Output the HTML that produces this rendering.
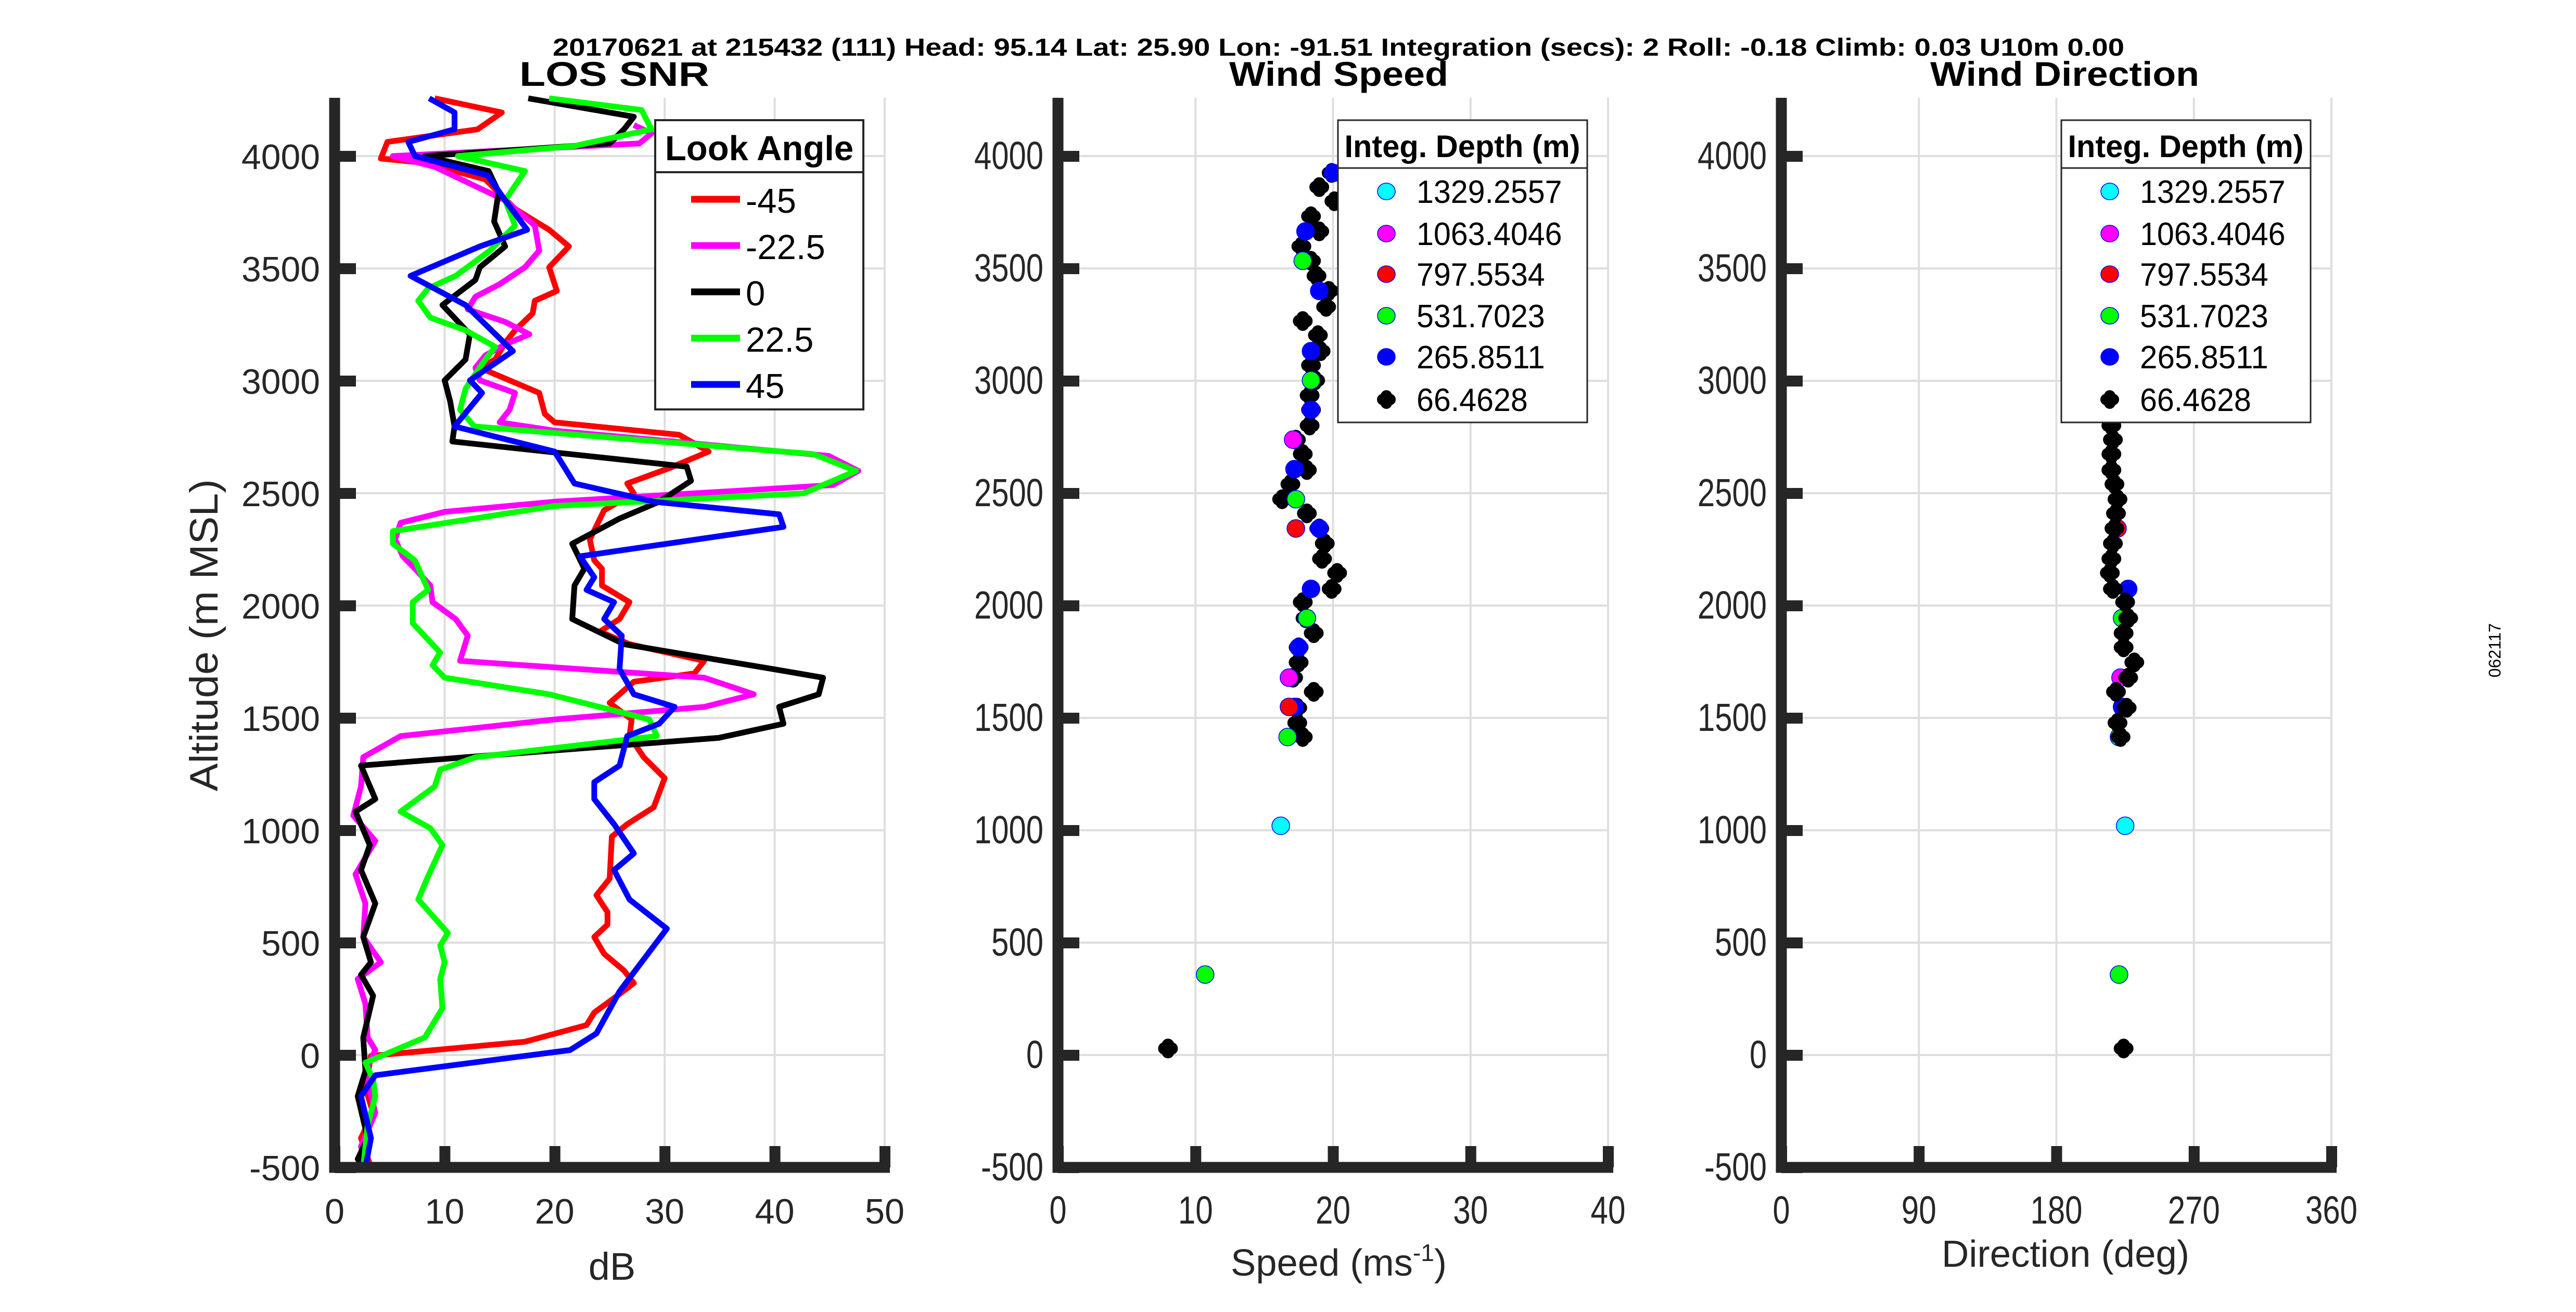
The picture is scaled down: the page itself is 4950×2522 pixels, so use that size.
<!DOCTYPE html>
<html><head><meta charset="utf-8"><style>
html,body{margin:0;padding:0;background:#fff;}
svg{display:block;font-family:"Liberation Sans",Arial,sans-serif;}
</style></head><body>
<svg id="fig" xmlns="http://www.w3.org/2000/svg" width="4950" height="2522" viewBox="0 0 4950 2522">
<rect width="4950" height="2522" fill="#fff"/>
<text x="1062" y="107" font-size="47" font-weight="bold" textLength="3020" lengthAdjust="spacingAndGlyphs">20170621 at 215432 (111)  Head: 95.14  Lat: 25.90  Lon: -91.51  Integration (secs): 2  Roll: -0.18  Climb: 0.03  U10m 0.00</text>
<text transform="translate(4805,1250) rotate(-90)" font-size="32" text-anchor="middle">062117</text>
<g id="grids"></g>
<g id="marks"></g>
<g id="axes"></g>
<g id="legends"></g>
</svg>
<script>
// ---- Panel 1: LOS SNR data ----
const snrM45_dB = [9.1,15.2,13.0,4.8,4.2,8.2,13.7,16.4,19.5,21.3,19.5,20.2,18.2,18.0,16.4,15.5,14.6,13.2,18.6,19.1,20.0,31.3,34.0,30.4,26.6,27.2,24.5,23.2,23.6,24.3,24.3,26.8,25.9,24.1,26.8,33.6,32.7,27.2,25.9,25.0,27.0,26.8,28.1,30.0,29.0,26.6,25.2,25.0,23.8,24.8,24.8,23.6,24.5,26.3,27.2,25.7,23.6,22.9,17.3,3.3,2.8,3.5,2.4,3.3];
const snrM45_alt = [4257,4194,4119,4063,3989,3970,3896,3765,3672,3598,3505,3400,3356,3300,3225,3169,3095,3058,2946,2853,2815,2760,2685,2611,2543,2499,2424,2294,2201,2164,2089,2015,1940,1884,1828,1754,1698,1661,1605,1567,1493,1419,1325,1232,1102,1027,972,785,711,636,580,525,450,376,320,264,189,133,59,-4,-146,-258,-370,-500];
const snrM22_dB = [27.2,28.8,27.7,5.3,9.1,15.5,18.2,18.6,17.3,15.0,12.8,12.1,15.5,17.7,15.5,13.7,12.8,13.2,16.4,15.9,15.0,20.0,44.9,47.6,45.3,20.0,10.0,6.0,5.5,6.2,7.3,8.7,8.9,11.0,12.1,11.4,33.6,38.1,33.6,20.0,6.0,2.6,2.4,1.7,3.7,1.9,2.8,2.6,4.2,2.1,2.8,3.0,3.7,2.8,3.7,2.4,2.8];
const snrM22_alt = [4138,4101,4056,4000,3952,3803,3691,3579,3505,3430,3374,3318,3262,3207,3162,3113,3058,3002,2946,2871,2815,2778,2666,2599,2536,2462,2417,2368,2294,2219,2164,2089,2015,1940,1866,1754,1679,1605,1549,1493,1419,1325,1195,1065,953,804,674,525,413,338,227,78,22,-71,-258,-407,-500];
const snr0_dB = [17.6,27.2,26.3,25.0,8.2,14.0,14.9,14.5,15.5,13.2,12.8,9.8,12.3,11.9,10.0,10.5,10.9,10.7,32.0,32.4,29.5,25.9,21.6,22.7,21.8,21.6,26.3,39.9,44.4,44.0,40.4,40.8,34.9,11.9,2.4,3.7,1.9,3.2,2.4,3.7,2.6,3.3,2.4,3.5,2.6,2.8,2.1,3.0,2.1,2.6];
const snr0_alt = [4257,4175,4119,4056,4000,3933,3840,3709,3598,3505,3449,3337,3207,3095,3002,2909,2797,2730,2618,2555,2462,2387,2275,2164,2089,1940,1828,1717,1679,1605,1549,1474,1411,1325,1288,1139,1083,934,823,674,525,413,357,264,78,-71,-183,-370,-463,-500];
const snrP22_dB = [19.5,27.9,28.8,21.8,11.2,17.3,15.5,16.4,14.1,11.0,8.5,7.6,8.7,11.9,14.6,13.7,11.9,11.4,12.7,43.5,47.4,42.6,20.0,5.3,5.3,7.3,8.5,7.1,7.1,9.6,8.9,10.0,19.5,28.6,29.3,12.8,9.6,9.1,6.0,8.7,9.8,8.4,7.6,10.3,9.6,10.0,9.6,9.8,8.2,2.8,3.5,3.7,3.0,2.6];
const snrP22_alt = [4257,4205,4119,4045,4000,3933,3803,3691,3579,3467,3411,3356,3281,3225,3151,3095,2965,2871,2797,2674,2599,2499,2443,2331,2275,2201,2070,2015,1921,1791,1735,1679,1605,1493,1419,1325,1270,1195,1083,1009,934,785,692,543,487,413,338,208,78,-34,-109,-183,-314,-500];
const snrP45_dB = [8.6,10.9,10.9,6.7,7.3,11.0,13.9,15.5,17.5,13.2,6.9,11.9,16.2,12.3,13.4,10.9,20.0,21.8,29.0,40.4,40.8,22.3,23.6,22.9,25.4,24.5,26.1,25.9,27.2,30.9,29.5,26.6,25.9,23.6,23.6,25.4,27.2,25.4,26.8,30.2,25.9,23.8,21.4,3.7,2.4,3.3,2.8];
const snrP45_alt = [4257,4194,4119,4063,4000,3952,3914,3803,3672,3598,3467,3337,3132,3002,2946,2797,2685,2543,2462,2406,2350,2219,2126,2070,2015,1940,1866,1717,1605,1549,1474,1419,1288,1214,1139,1027,897,823,692,562,283,96,22,-90,-183,-370,-500];
const lookAngles = ["-45","-22.5","0","22.5","45"];

// ---- Panel 2: wind speed data ----
const spd66_v = [19.9,19.0,20.1,18.4,19.0,17.7,18.4,18.8,19.7,19.5,17.8,18.9,19.1,18.4,18.7,18.3,18.4,18.3,17.3,17.8,18.1,16.9,16.3,18.1,19.0,19.4,19.2,20.3,19.9,17.8,18.0,18.6,17.5,17.5,17.1,18.6,17.4,17.4,17.8,8.0];
const spd66_alt = [3925,3862,3799,3732,3665,3598,3534,3467,3400,3329,3266,3203,3132,3069,3002,2935,2871,2801,2738,2674,2603,2540,2473,2410,2343,2276,2208,2145,2074,2015,1944,1877,1814,1747,1679,1616,1545,1478,1415,29];
const spd265_v = [20.0,18.0,19.0,18.4,18.4,17.2,19.0,18.4,17.5,17.2];
const spd265_alt = [3925,3665,3400,3132,2871,2607,2343,2074,1814,1549];
const spd531_v = [17.8,18.4,17.3,18.1,16.7,10.7];
const spd531_alt = [3534,3002,2473,1944,1415,358];
const spd1063_v = [17.1,16.8];
const spd1063_alt = [2738,1679];
const spd797_v = [17.3,16.8];
const spd797_alt = [2343,1549];
const spd1329_v = [16.2];
const spd1329_alt = [1020];

// ---- Panel 3: wind direction data ----
const dir66_v = [215,215,216,216,217,216,216,218,220,219,218,217,216,215,217,225,227,224,224,231,227,219,226,220,222,224];
const dir66_alt = [3400,3200,3000,2801,2738,2674,2603,2540,2473,2410,2343,2276,2208,2145,2074,2015,1944,1877,1814,1747,1679,1616,1545,1478,1415,29];
const dir265_v = [227,223];
const dir265_alt = [2074,1549];
const dir531_v = [223,221,221];
const dir531_alt = [1944,1415,358];
const dir1063_v = [222];
const dir1063_alt = [1679];
const dir797_v = [220];
const dir797_alt = [2343];
const dir1329_v = [225];
const dir1329_alt = [1020];
const depthLabels = ["1329.2557","1063.4046","797.5534","531.7023","265.8511","66.4628"];

const NS = "http://www.w3.org/2000/svg";
function mk(tag, attrs, parent, txt){
  const e = document.createElementNS(NS, tag);
  for (const k in attrs) e.setAttribute(k, attrs[k]);
  if (txt !== undefined) e.textContent = txt;
  parent.appendChild(e);
  return e;
}
const gGrid = document.getElementById('grids');
const gMarks = document.getElementById('marks');
const gAxes = document.getElementById('axes');
const gLeg = document.getElementById('legends');

const TOP = 188, Y0 = 2028, PXPER = 216/500, W = 1057;
function yScale(a){ return Y0 - a*PXPER; }
const BOTTOM = yScale(-500);
const panels = [
  {x0:643, max:50, ticks:[0,10,20,30,40,50], title:"LOS SNR", tx:998, tw:365, tickFs:68, tickW:1.0},
  {x0:2033, max:40, ticks:[0,10,20,30,40], title:"Wind Speed", tx:2362, tw:421, tickFs:75, tickW:0.8},
  {x0:3423, max:360, ticks:[0,90,180,270,360], title:"Wind Direction", tx:3709, tw:517, tickFs:75, tickW:0.8}
];
function xS(p, v){ return p.x0 + v/p.max*W; }
const yTicks = [-500,0,500,1000,1500,2000,2500,3000,3500,4000];

panels.forEach(function(p, i){
  p.ticks.forEach(function(t){
    if (t === 0) return;
    const gl = mk('line', {x1:xS(p,t), x2:xS(p,t), y1:TOP, y2:BOTTOM, stroke:'#dedede', 'stroke-width':4}, gGrid);
    
    
  });
  yTicks.forEach(function(t){
    if (t === -500) return;
    const gl = mk('line', {x1:p.x0, x2:p.x0+W, y1:yScale(t), y2:yScale(t), stroke:'#dedede', 'stroke-width':4}, gGrid);
    
    
  });
  const ax = mk('path', {d:'M'+p.x0+' '+TOP+' V'+BOTTOM+' H'+(p.x0+W+10), fill:'none', stroke:'#262626', 'stroke-width':21}, gAxes);
  
  
  p.ticks.forEach(function(t){
    const x = xS(p,t);
    const tk = mk('rect', {x:x-10, y:BOTTOM-41, width:21, height:41, fill:'#262626'}, gAxes);
    
    
    const s = String(t);
    const lb = mk('text', {x:x, y:2352, 'font-size':p.tickFs, fill:'#262626', 'text-anchor':'middle', textLength:(s.length*0.556*p.tickFs*p.tickW).toFixed(0), lengthAdjust:'spacingAndGlyphs'}, gAxes, s);
    
    
  });
  yTicks.forEach(function(t){
    const y = yScale(t);
    const tk = mk('rect', {x:p.x0, y:y-10, width:41, height:21, fill:'#262626'}, gAxes);
    
    
    const s = String(t);
    const len = (s.replace('-','').length*0.556 + (s[0]==='-'?0.333:0))*p.tickFs*p.tickW;
    const lb = mk('text', {x:p.x0-28, y:y+25, 'font-size':p.tickFs, fill:'#262626', 'text-anchor':'end', textLength:len.toFixed(0), lengthAdjust:'spacingAndGlyphs'}, gAxes, s);
    
    
  });
  const tt = mk('text', {x:p.tx, y:165, 'font-size':66, 'font-weight':'bold', textLength:p.tw, lengthAdjust:'spacingAndGlyphs'}, gAxes, p.title);
  
  
});

let al = mk('text', {transform:'translate(418,1221) rotate(-90)', 'font-size':76, fill:'#262626', 'text-anchor':'middle', textLength:600, lengthAdjust:'spacingAndGlyphs'}, gAxes, 'Altitude (m MSL)');


al = mk('text', {x:1176, y:2460, 'font-size':74, fill:'#262626', 'text-anchor':'middle'}, gAxes, 'dB');


al = mk('text', {x:2365, y:2452, 'font-size':72, fill:'#262626', textLength:415, lengthAdjust:'spacingAndGlyphs'}, gAxes);


mk('tspan', {}, al, 'Speed (ms');
mk('tspan', {dy:-28, 'font-size':46}, al, '-1');
mk('tspan', {dy:28}, al, ')');
al = mk('text', {x:3969, y:2435, 'font-size':72, fill:'#262626', 'text-anchor':'middle', textLength:476, lengthAdjust:'spacingAndGlyphs'}, gAxes, 'Direction (deg)');



const snrSeries = [
  [snrM45_dB, snrM45_alt, '#ff0000', 'snr-line-minus45'],
  [snrM22_dB, snrM22_alt, '#ff00ff', 'snr-line-minus22'],
  [snr0_dB, snr0_alt, '#000000', 'snr-line-0'],
  [snrP22_dB, snrP22_alt, '#00ff00', 'snr-line-plus22'],
  [snrP45_dB, snrP45_alt, '#0000ff', 'snr-line-plus45']
];
snrSeries.forEach(function(s){
  const pts = s[0].map(function(v, i){ return xS(panels[0], v).toFixed(1)+','+yScale(s[1][i]).toFixed(1); }).join(' ');
  const pl = mk('polyline', {points:pts, fill:'none', stroke:s[2], 'stroke-width':11, 'stroke-linejoin':'round'}, gMarks);
  
  
});

function plus(x, y, name){
  const g = mk('g', {}, gMarks);
  
  
  mk('path', {d:'M'+(x-7)+' '+y+' H'+(x+7)+' M'+x+' '+(y-7)+' V'+(y+7), stroke:'#000', 'stroke-width':24, 'stroke-linecap':'round'}, g);
}
function dot(x, y, fill, name){
  const c = mk('ellipse', {cx:x, cy:y, rx:17, ry:17, fill:fill, stroke:'#0000ff', 'stroke-width':1.5}, gMarks);
  
  
}
function scatter(p, vals, alts, fill, name){
  vals.forEach(function(v, i){
    if (fill === null) plus(xS(p, v), yScale(alts[i]), name);
    else dot(xS(p, v), yScale(alts[i]), fill, name);
  });
}
scatter(panels[1], spd66_v, spd66_alt, null, 'speed-point-66m');
scatter(panels[1], spd265_v, spd265_alt, '#0000ff', 'speed-point-265m');
scatter(panels[1], spd531_v, spd531_alt, '#00ff00', 'speed-point-531m');
scatter(panels[1], spd797_v, spd797_alt, '#ff0000', 'speed-point-797m');
scatter(panels[1], spd1063_v, spd1063_alt, '#ff00ff', 'speed-point-1063m');
scatter(panels[1], spd1329_v, spd1329_alt, '#00ffff', 'speed-point-1329m');
scatter(panels[2], dir797_v, dir797_alt, '#ff0000', 'direction-point-797m');
scatter(panels[2], dir265_v, dir265_alt, '#0000ff', 'direction-point-265m');
scatter(panels[2], dir531_v, dir531_alt, '#00ff00', 'direction-point-531m');
scatter(panels[2], dir1063_v, dir1063_alt, '#ff00ff', 'direction-point-1063m');
scatter(panels[2], dir66_v, dir66_alt, null, 'direction-point-66m');
scatter(panels[2], dir1329_v, dir1329_alt, '#00ffff', 'direction-point-1329m');

(function(){
  const g = mk('g', {}, gLeg);
  
  
  mk('rect', {x:1259, y:231, width:400, height:556, fill:'#fff', stroke:'#262626', 'stroke-width':4}, g);
  mk('line', {x1:1259, x2:1659, y1:331, y2:331, stroke:'#262626', 'stroke-width':4}, g);
  mk('text', {x:1459, y:308, 'font-size':67, 'font-weight':'bold', 'text-anchor':'middle'}, g, 'Look Angle');
  const cols = ['#ff0000','#ff00ff','#000000','#00ff00','#0000ff'];
  const ys = [383,472,561,650,739];
  lookAngles.forEach(function(lab, i){
    const e = mk('g', {}, g);
    
    
    mk('line', {x1:1328, x2:1422, y1:ys[i], y2:ys[i], stroke:cols[i], 'stroke-width':13}, e);
    mk('text', {x:1433, y:ys[i]+26, 'font-size':67}, e, lab);
  });
})();

[[2571,'speed-depth-legend'],[3961,'direction-depth-legend']].forEach(function(L){
  const x = L[0];
  const g = mk('g', {}, gLeg);
  
  
  mk('rect', {x:x, y:231, width:479, height:581, fill:'#fff', stroke:'#262626', 'stroke-width':3}, g);
  mk('line', {x1:x, x2:x+479, y1:323, y2:323, stroke:'#262626', 'stroke-width':3}, g);
  mk('text', {x:x+239, y:302, 'font-size':60, 'font-weight':'bold', 'text-anchor':'middle', textLength:453, lengthAdjust:'spacingAndGlyphs'}, g, 'Integ. Depth (m)');
  const cols = ['#00ffff','#ff00ff','#ff0000','#00ff00','#0000ff',null];
  const ys = [368,449,527,607,686,768];
  depthLabels.forEach(function(lab, i){
    const e = mk('g', {}, g);
    
    
    const mx = x + 93;
    if (cols[i] === null) mk('path', {d:'M'+(mx-7)+' '+ys[i]+' H'+(mx+7)+' M'+mx+' '+(ys[i]-7)+' V'+(ys[i]+7), stroke:'#000', 'stroke-width':22, 'stroke-linecap':'round'}, e);
    else mk('ellipse', {cx:mx, cy:ys[i], rx:17, ry:16, fill:cols[i], stroke:'#0000ff', 'stroke-width':1.5}, e);
    mk('text', {x:x+151, y:ys[i]+22, 'font-size':62, textLength:(lab.length-1)*0.556*60*0.985+0.278*60, lengthAdjust:'spacingAndGlyphs'}, e, lab);
  });
});
</script>
</body></html>
